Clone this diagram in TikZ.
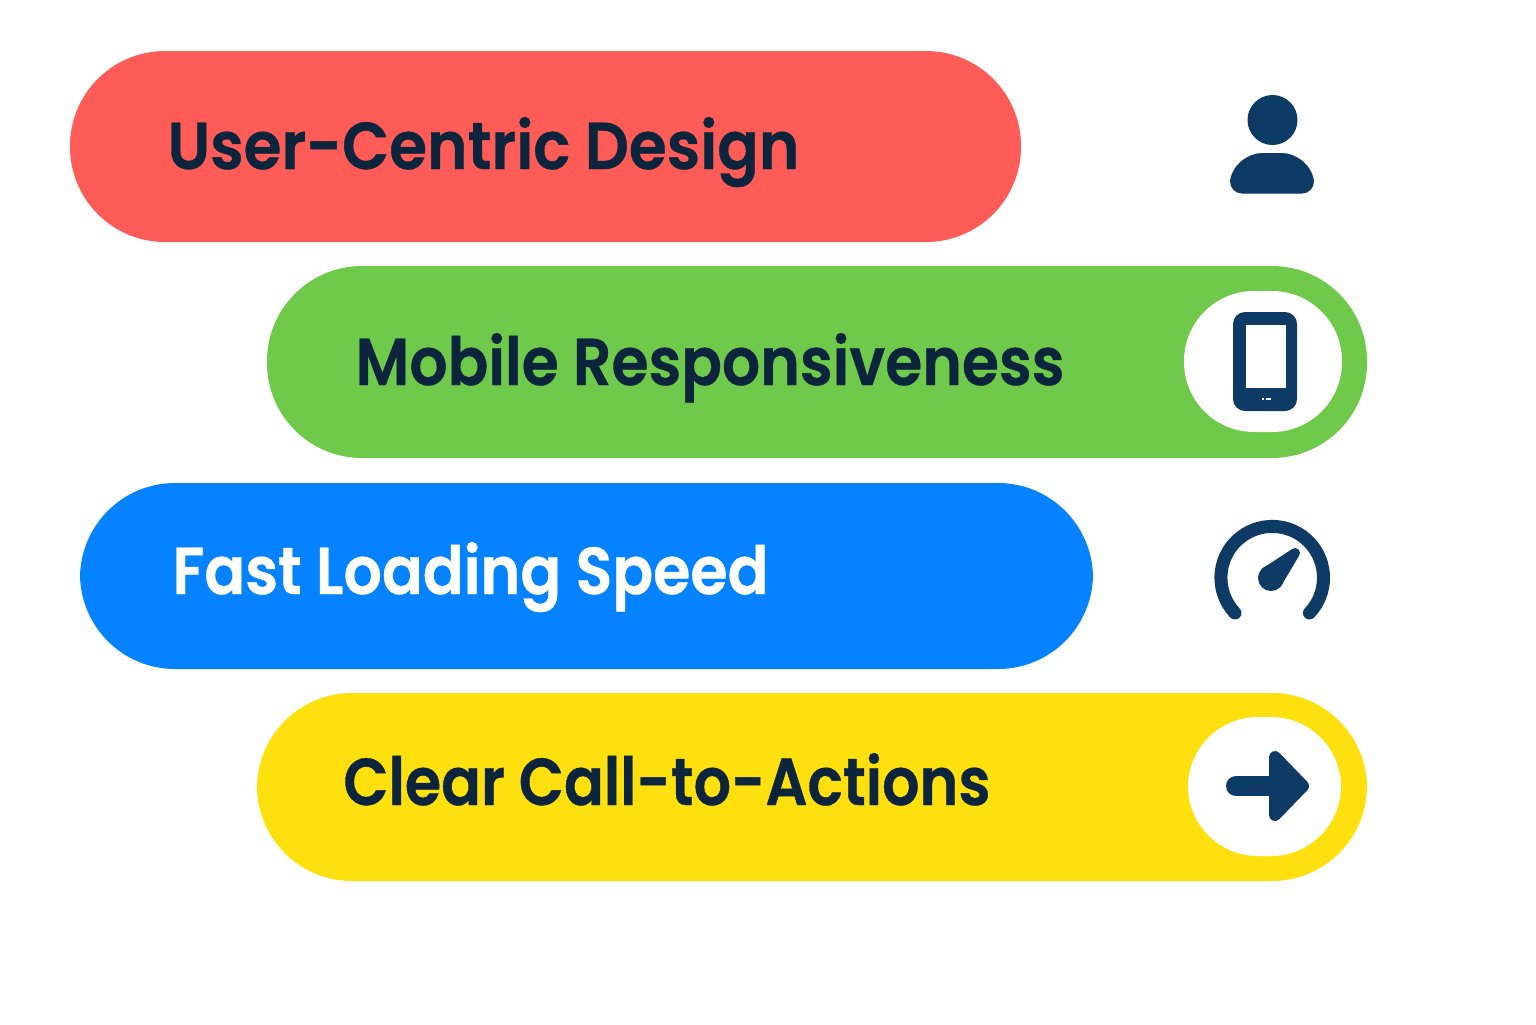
\documentclass[tikz,border=0pt]{standalone}
\usepackage{fontspec}
\setmainfont[BoldFont={Poppins SemiBold},BoldFeatures={FakeBold=0.6}]{Poppins}
\definecolor{pillred}{HTML}{FF5C57}
\definecolor{pillgreen}{HTML}{6FC94A}
\definecolor{pillblue}{HTML}{0582FF}
\definecolor{pillyellow}{HTML}{FFE00F}
\definecolor{icon}{HTML}{0D3B66}
\definecolor{ink}{HTML}{0C253C}
\newcommand{\fittext}[3]{\resizebox{#1pt}{#2pt}{\bfseries #3}}
\tikzset{
  pill/.style={inner sep=0pt,draw=none,rounded corners=47.5pt},
  whitecap/.style={fill=white,draw=none,inner sep=0pt,rounded corners=35pt},
  lbl/.style={anchor=base west,inner sep=0pt,text=ink},
  iconfill/.style={fill=icon,draw=none}
}
\begin{document}
\begin{tikzpicture}[x=0.5pt,y=-0.5pt]
\useasboundingbox (0,0) rectangle (1536,1024);
% pills
\node[pill,fill=pillred,minimum width=475.5pt,minimum height=95.5pt] (p1) at (545.5,146.5) {};
\node[pill,fill=pillgreen,minimum width=550pt,minimum height=96pt] (p2) at (817,362) {};
\node[pill,fill=pillblue,minimum width=506.5pt,minimum height=93pt] (p3) at (586.5,576) {};
\node[pill,fill=pillyellow,minimum width=555pt,minimum height=94pt] (p4) at (812,787) {};
% white caps
\node[whitecap,minimum width=79pt,minimum height=70.5pt] (c2) at (1263,361.5) {};
\node[whitecap,minimum width=76.5pt,minimum height=69.5pt] (c4) at (1264.5,786.5) {};
% labels
\node[lbl] (t1) at (167,169) {\fittext{316}{26}{User-Centric Design}};
\node[lbl] (t2) at (355,385) {\fittext{354.5}{26}{Mobile Responsiveness}};
\node[lbl,text=white] (t3) at (172,594) {\fittext{298}{26}{Fast Loading Speed}};
\node[lbl] (t4) at (343,805) {\fittext{323.5}{26}{Clear Call-to-Actions}};
% person icon
\fill[iconfill] (1272.5,120) circle (25);
\fill[iconfill] (1242,193.5) .. controls (1235,193.5) and (1230,188) .. (1230,181)
  .. controls (1232,165) and (1248,153) .. (1262,153) -- (1282,153)
  .. controls (1296,153) and (1312,165) .. (1314,181)
  .. controls (1314,188) and (1309,193.5) .. (1302,193.5) -- cycle;
% phone icon
\fill[iconfill,rounded corners=6pt] (1233,312) rectangle (1297,411);
\fill[white] (1245.5,325) rectangle (1286,388);
\fill[white] (1261.5,397.5) rectangle (1263.5,399.5);
\fill[white] (1265.5,397.5) rectangle (1271,399.5);
% gauge icon
\draw[icon,line width=6.5pt,line cap=round] (1235,613) arc[start angle=-223.5,end angle=43.5,radius=51.3];
\fill[iconfill] (1271,578) circle (13);
\fill[iconfill] (1295,553) circle (5);
\fill[iconfill] (1280.4,587) -- (1298.6,556.5) -- (1291.4,549.5) -- (1261.6,569) -- cycle;
% arrow icon
\draw[icon,line width=10pt,line cap=round] (1236,786) -- (1280,786);
\draw[icon,fill=icon,line width=6pt,line join=round] (1275,757) -- (1303,786) -- (1275,815) -- cycle;
\end{tikzpicture}
\end{document}
